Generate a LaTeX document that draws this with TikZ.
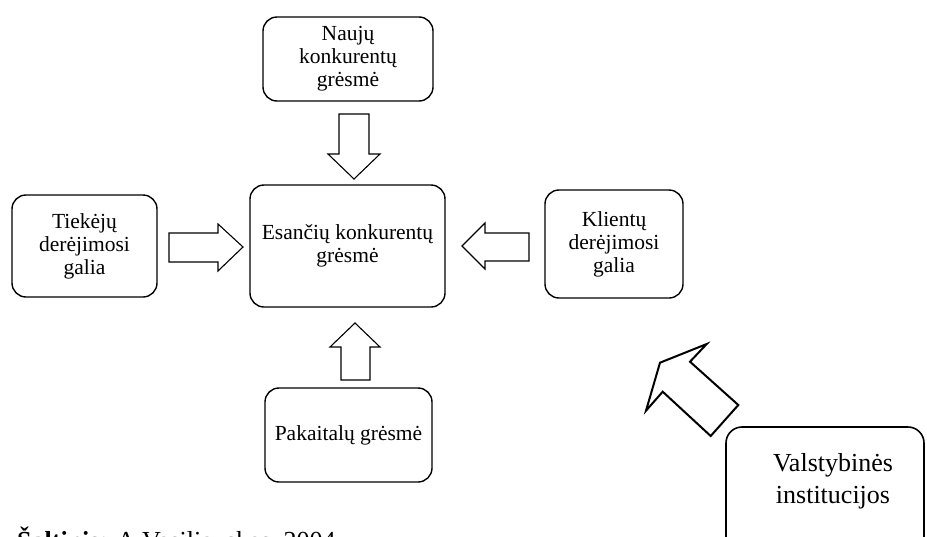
\documentclass[tikz,border=0pt]{standalone}
\usepackage{fontspec}
\setmainfont{Liberation Serif}
\begin{document}
\begin{tikzpicture}[x=1pt,y=-1pt,
  box/.style={draw, line width=1.4pt, rounded corners=14pt, align=center,
    font=\fontsize{21.5}{23}\selectfont, inner sep=0pt},
  barrow/.style={draw, line width=1.1pt, line join=miter},
  diagarrow/.style={draw, line width=2pt, line join=miter}]
\useasboundingbox (0,0) rectangle (927,536);
\clip (0,0) rectangle (927,536);

\node[box, minimum width=170pt, minimum height=84pt] (N) at (348,59) {Naujų\\konkurentų\\grėsmė};
\node[box, minimum width=145pt, minimum height=102pt] (T) at (84.5,246) {Tiekėjų\\derėjimosi\\galia};
\node[box, minimum width=195pt, minimum height=122pt] (E) at (347.5,246) {Esančių konkurentų\\grėsmė};
\node[box, minimum width=138pt, minimum height=108pt] (K) at (614,244) {Klientų\\derėjimosi\\galia};
\node[box, minimum width=167pt, minimum height=94pt] (P) at (348.5,435) {Pakaitalų grėsmė};

\node[box, line width=1.6pt, rounded corners=16pt, minimum width=198pt, minimum height=140pt] (V) at (825,497) {};
\node[font=\fontsize{26}{32}\selectfont, align=center, inner sep=0pt] (Vt) at (833,481) {Valstybinės\\institucijos};

% block arrows
\draw[barrow] (339,114) -- (369,114) -- (369,154) -- (380,154) -- (354,179) -- (328,154) -- (339,154) -- cycle;
\draw[barrow] (169,233) -- (218,233) -- (218,224) -- (243,247) -- (218,271) -- (218,262) -- (169,262) -- cycle;
\draw[barrow] (529,233) -- (485,233) -- (485,223) -- (462,246) -- (485,269) -- (485,261) -- (529,261) -- cycle;
\draw[barrow] (341,380) -- (341,347) -- (330,347) -- (355,323) -- (380,347) -- (370,347) -- (370,380) -- cycle;
\draw[diagarrow] (706.7,344) -- (690,361.7) -- (738.3,405) -- (710.7,436) -- (662.7,391.7) -- (646,410.7) -- (660,362.7) -- cycle;

\node[anchor=base west, font=\fontsize{26}{30}\selectfont, inner sep=0pt] (src) at (17,549) {\textbf{Šaltinis:} A.Vasiliauskas, 2004};
\end{tikzpicture}
\end{document}
